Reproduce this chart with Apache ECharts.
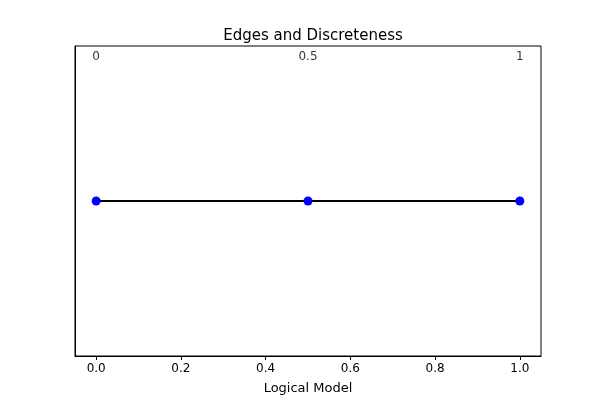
<!DOCTYPE html>
<html>
<head>
<meta charset="utf-8">
<script src="https://cdn.jsdelivr.net/npm/echarts@6/dist/echarts.min.js"></script>
<style>html,body{margin:0;padding:0;background:#fff}#main{width:600px;height:400px}</style>
</head>
<body>
<div id="main"></div>
<script>
var xValues = [0, 0.5, 1];
var yValues = [0, 0, 0];
var pointLabels = ['0', '0.5', '1'];
var xTicks = [0, 0.2, 0.4, 0.6, 0.8, 1.0];

var labelY = 0.93;
var chart = echarts.init(document.getElementById('main'));
chart.setOption({
    animation: false,
    textStyle: {fontFamily: 'DejaVu Sans'},
    title: {
        text: 'Edges and Discreteness',
        left: 308, top: 24, textAlign: 'center',
        textStyle: {fontSize: 15, fontWeight: 'normal', color: '#000', fontFamily: 'DejaVu Sans'}
    },
    grid: {left: 75, right: 59, top: 46, bottom: 44, show: true, borderColor: '#000', borderWidth: 1, backgroundColor: 'transparent'},
    xAxis: {
        type: 'value', min: -0.05, max: 1.05,
        name: 'Logical Model', nameLocation: 'middle', nameGap: 26,
        nameTextStyle: {fontSize: 13, color: '#000'},
        axisLine: {onZero: false, lineStyle: {color: '#000'}},
        axisTick: {show: true, customValues: xTicks, length: 4, lineStyle: {color: '#000'}},
        axisLabel: {
            customValues: xTicks, fontSize: 12, color: '#000', margin: 7,
            formatter: function (v) { return v.toFixed(1); }
        },
        splitLine: {show: false}
    },
    yAxis: {
        type: 'value', min: -1, max: 1,
        axisLine: {show: true, onZero: false, lineStyle: {color: '#000'}},
        axisTick: {show: false}, axisLabel: {show: false}, splitLine: {show: false}
    },
    series: [
        {
            type: 'line',
            data: xValues.map(function (x, i) { return [x, yValues[i]]; }),
            lineStyle: {color: '#000', width: 2},
            symbol: 'circle', symbolSize: 9,
            itemStyle: {color: '#0000ff'}
        },
        {
            type: 'scatter',
            data: xValues.map(function (x, i) { return [x, labelY]; }),
            symbolSize: 0,
            label: {
                show: true, position: 'inside', fontSize: 12, color: '#000',
                textBorderWidth: 0,
                formatter: function (p) { return pointLabels[p.dataIndex]; }
            }
        }
    ]
});
</script>
</body>
</html>
